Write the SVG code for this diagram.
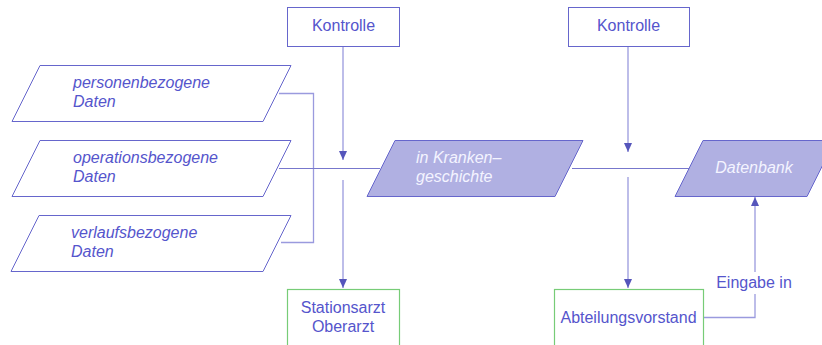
<svg xmlns="http://www.w3.org/2000/svg" width="822" height="345" viewBox="0 0 822 345">
<defs>
<marker id="arr" markerWidth="10" markerHeight="8" refX="9" refY="4" orient="auto" markerUnits="userSpaceOnUse">
<path d="M0,0 L9,4 L0,8 Z" fill="#5555bb"/>
</marker>
<style>
.box{fill:#ffffff;stroke:#6666cc;stroke-width:1}
.gbox{fill:#ffffff;stroke:#77cc77;stroke-width:1.2}
.pin{fill:#ffffff;stroke:#6666cc;stroke-width:1}
.pfill{fill:#b0b0e2;stroke:#6666cc;stroke-width:1}
.t{font-family:"Liberation Sans",Arial,sans-serif;font-size:16px;fill:#5555cc}
.ti{font-family:"Liberation Sans",Arial,sans-serif;font-size:16px;font-style:italic;fill:#5555cc}
.tw{font-family:"Liberation Sans",Arial,sans-serif;font-size:16px;font-style:italic;fill:#f4f4ff}
.c{fill:none;stroke:#7777cc;stroke-width:1}
.cl{fill:none;stroke:#9a9ade;stroke-width:1.3}
</style>
</defs>
<rect width="822" height="345" fill="#ffffff"/>
<g id="connectors">
<path class="cl" d="M279,93.5 H313.5 V242.5 H281"/>
<path class="c" d="M279,168.5 H380"/>
<path class="c" d="M572,168.5 H690"/>
<path class="cl" d="M343,46 V160" marker-end="url(#arr)"/>
<path class="cl" d="M343,180 V288" marker-end="url(#arr)"/>
<path class="cl" d="M628,46 V152" marker-end="url(#arr)"/>
<path class="cl" d="M628,177 V288" marker-end="url(#arr)"/>
<path class="cl" d="M703,317.5 H755 V294"/>
<path class="cl" d="M755,272 V197" marker-end="url(#arr)"/>
<text class="t" x="754" y="288" text-anchor="middle">Eingabe in</text>
</g>
<g id="kontrolle1">
<rect class="box" x="287.5" y="7.5" width="112" height="39"/>
<text class="t" x="343.5" y="31" text-anchor="middle">Kontrolle</text>
</g>
<g id="kontrolle2">
<rect class="box" x="568.5" y="7.5" width="121" height="39"/>
<text class="t" x="628.5" y="31" text-anchor="middle">Kontrolle</text>
</g>
<g id="personenbezogene">
<polygon class="pin" points="40,65.5 291,65.5 263,121.5 12,121.5"/>
<text class="ti" x="73" y="88">personenbezogene</text>
<text class="ti" x="73" y="107">Daten</text>
</g>
<g id="operationsbezogene">
<polygon class="pin" points="40,140.5 291,140.5 263,196.5 12,196.5"/>
<text class="ti" x="73" y="163">operationsbezogene</text>
<text class="ti" x="73" y="182">Daten</text>
</g>
<g id="verlaufsbezogene">
<polygon class="pin" points="39,215.5 291,215.5 263,271.5 11,271.5"/>
<text class="ti" x="71" y="238">verlaufsbezogene</text>
<text class="ti" x="71" y="257">Daten</text>
</g>
<g id="krankengeschichte">
<polygon class="pfill" points="395,140.5 583,140.5 555,196.5 367,196.5"/>
<text class="tw" x="416" y="163">in Kranken–</text>
<text class="tw" x="416" y="182">geschichte</text>
</g>
<g id="datenbank">
<polygon class="pfill" points="703,140.5 835,140.5 807,196.5 675,196.5"/>
<text class="tw" x="754" y="173" text-anchor="middle">Datenbank</text>
</g>
<g id="stationsarzt">
<rect class="gbox" x="287.5" y="289.5" width="112" height="70"/>
<text class="t" x="343" y="313" text-anchor="middle">Stationsarzt</text>
<text class="t" x="343" y="332" text-anchor="middle">Oberarzt</text>
</g>
<g id="abteilungsvorstand">
<rect class="gbox" x="554.5" y="289.5" width="149" height="70"/>
<text class="t" x="628.5" y="323" text-anchor="middle">Abteilungsvorstand</text>
</g>
</svg>
